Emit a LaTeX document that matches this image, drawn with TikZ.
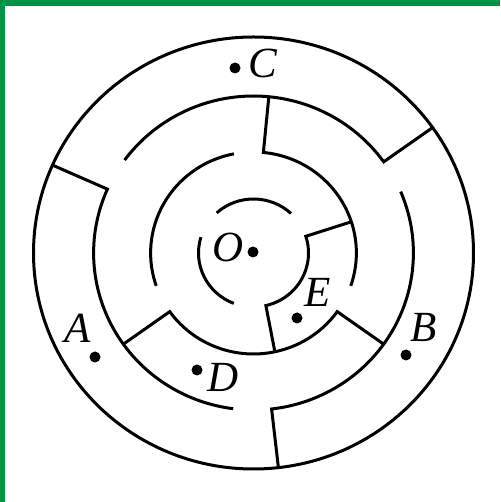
\documentclass[tikz,border=0pt]{standalone}
\usepackage{fontspec}
\setmainfont{Liberation Serif}
\definecolor{bordergreen}{RGB}{0,148,70}
\begin{document}
\begin{tikzpicture}[x=1pt,y=1pt,
  wall/.style={line width=3pt, line cap=butt, line join=miter},
  lbl/.style={font=\fontsize{43}{43}\selectfont\itshape, inner sep=0pt, anchor=base},
  dotmark/.style={circle, fill=black, draw=none, inner sep=0pt, minimum size=11pt}]
\useasboundingbox (0,0) rectangle (500,502);
\fill[bordergreen] (0,0) rectangle (4.5,502);
\fill[bordergreen] (0,496) rectangle (500,502);
\begin{scope}[shift={(253.5,249)}, xscale=1.0185]
  % outer circle
  \draw[wall] (0,0) circle[radius=216pt];
  % ring 2 top with wall to outer
  \draw[wall] (35.5:216pt) -- (35.5:157pt) arc[start angle=35.5, end angle=143.7, radius=157pt];
  % ring 2 left with wall to outer
  \draw[wall] (156:216pt) -- (156:157pt) arc[start angle=156, end angle=262.7, radius=157pt];
  % ring 2 right with wall to outer
  \draw[wall] (276.5:216pt) -- (276.5:157pt) arc[start angle=276.5, end angle=383, radius=157pt];
  % ring 3 right with wall to ring 2
  \draw[wall] (84.5:157pt) -- (84.5:101pt) arc[start angle=84.5, end angle=-19, radius=101pt];
  % ring 3 left
  \draw[wall] (101:101pt) arc[start angle=101, end angle=199, radius=101pt];
  % ring 3 bottom with walls to ring 2
  \draw[wall] (215.5:157pt) -- (215.5:101pt) arc[start angle=215.5, end angle=324.5, radius=101pt] -- (324.5:157pt);
  % ring 4 right with walls to ring 3
  \draw[wall] (18:101pt) -- (18:54pt) arc[start angle=18, end angle=-77, radius=54pt] -- (-78:101pt);
  % ring 4 top and left
  \draw[wall] (47:54pt) arc[start angle=47, end angle=132, radius=54pt];
  \draw[wall] (163:54pt) arc[start angle=163, end angle=249, radius=54pt];
\end{scope}
% points
\node[dotmark] (dC) at (235,434) {};
\node[dotmark] (dO) at (253,250) {};
\node[dotmark] (dE) at (297,184) {};
\node[dotmark] (dB) at (406,147) {};
\node[dotmark] (dA) at (95,145) {};
\node[dotmark] (dD) at (197,132) {};
% labels
\node[lbl] (C) at (263,424) {C};
\node[lbl] (O) at (228,240) {O};
\node[lbl] (E) at (318,195) {E};
\node[lbl] (B) at (424,160) {B};
\node[lbl] (A) at (78,159) {A};
\node[lbl] (D) at (223,110) {D};
\end{tikzpicture}
\end{document}
